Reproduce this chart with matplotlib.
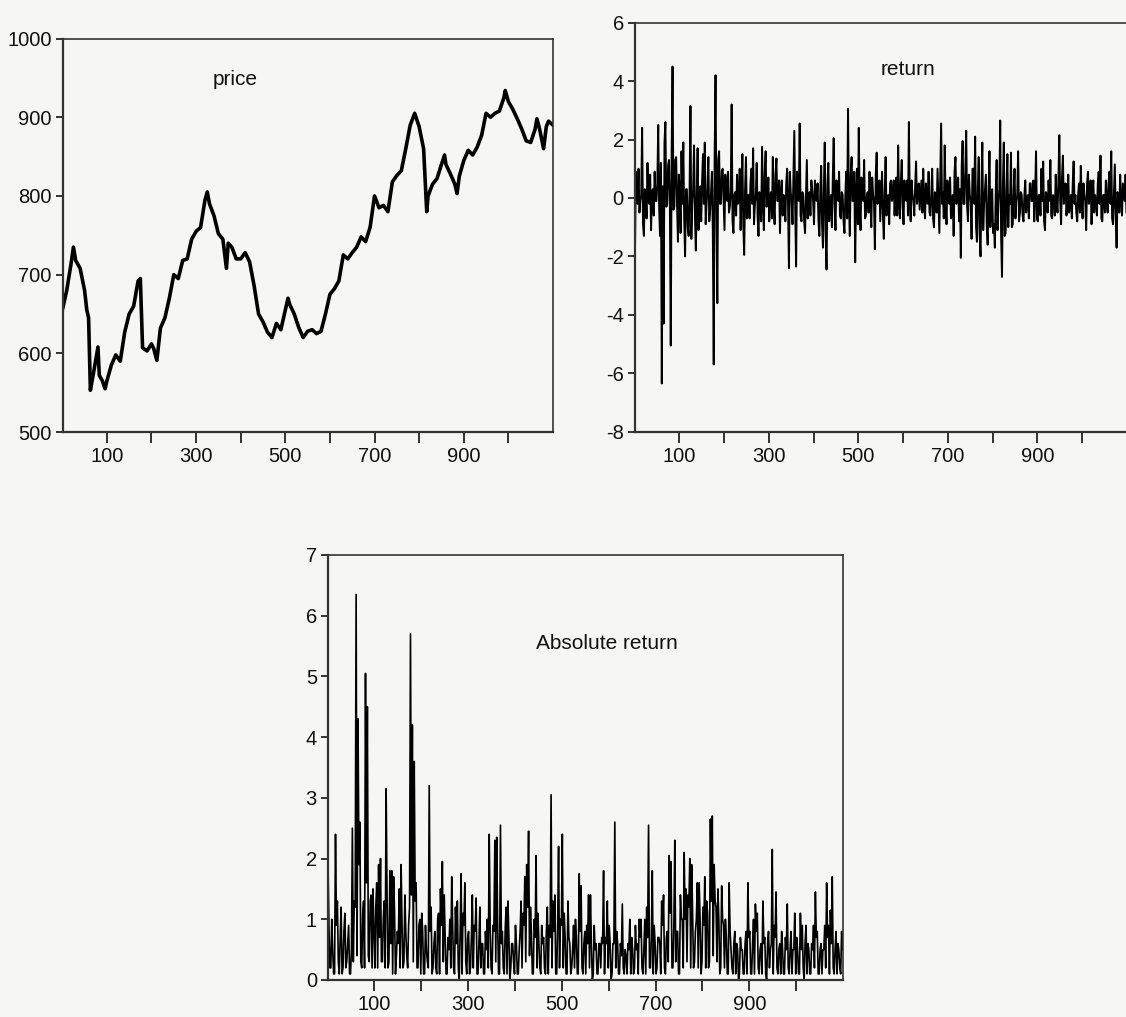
import numpy as np
import matplotlib.pyplot as plt

plt.rcParams['font.family'] = ['Liberation Sans', 'DejaVu Sans']
plt.rcParams['axes.unicode_minus'] = False

price_obs = [1, 10, 20, 25, 30, 40, 50, 55, 59, 63, 70, 80, 83, 90, 96, 100,
             110, 120, 130, 140, 150, 160, 170, 175, 180, 190, 200, 205, 212,
             220, 230, 240, 250, 260, 270, 280, 290, 300, 310, 320, 325, 330,
             340, 350, 360, 368, 372, 380, 390, 400, 410, 420, 430, 440, 450,
             460, 470, 480, 490, 500, 506, 510, 520, 530, 540, 550, 560, 570,
             580, 590, 600, 610, 620, 630, 640, 650, 660, 670, 680, 690, 700,
             710, 720, 730, 740, 750, 760, 770, 780, 790, 800, 810, 817, 820,
             830, 840, 850, 857, 860, 870, 880, 885, 890, 900, 910, 920, 930,
             940, 950, 960, 970, 980, 990, 993, 1000, 1010, 1020, 1030, 1040,
             1050, 1060, 1064, 1070, 1079, 1085, 1090, 1100]
price_val = [657, 680, 715, 735, 718, 708, 680, 655, 645, 553, 575, 608, 572,
             565, 555, 565, 585, 598, 590, 627, 650, 660, 692, 695, 607, 603,
             612, 606, 591, 632, 645, 670, 700, 695, 718, 720, 745, 755, 760,
             795, 805, 790, 775, 752, 745, 708, 740, 735, 720, 720, 728, 716,
             686, 650, 640, 627, 620, 638, 630, 655, 670, 662, 650, 633, 620,
             628, 630, 625, 628, 650, 675, 682, 692, 725, 720, 728, 735, 748,
             742, 760, 800, 785, 788, 780, 818, 826, 832, 860, 890, 905, 888,
             860, 780, 800, 815, 822, 840, 852, 840, 828, 815, 803, 825, 845,
             858, 852, 862, 877, 905, 900, 905, 908, 925, 934, 920, 910, 898,
             885, 870, 868, 885, 898, 885, 860, 888, 895, 890]

# return, read at obs 1, 5, 9, ...
ret_a = [
    -1.9, 0.2, 1.0, -0.1, 2.4, -1.3, 0.1, 1.2, -0.2, -1.1, 0.3, 0.9, -0.1,
    2.5, -1.3, -6.35, -4.3, 2.6, -0.2, 1.3, -5.05, 4.5, -0.3, 1.4, -1.5,
    0.2, 1.6, 1.9, -2.0, 0.3, -1.3, 3.15, -0.2, 1.8, -1.8, 1.7, 0.1, -0.8,
    1.5, 1.9, -0.2, 1.4, -0.4, 0.9, -5.7, 4.2, -3.6, 1.6, -0.2, 1.0,
    -1.1, 0.1, 0.9, -0.3, 3.2, -1.2, 0.2, 0.8, -0.1, -1.1, 1.5, -1.95, 1.4,
    0.1, -0.7, 1.0, 1.7, -0.2, 1.2, -1.3, 0.0, 1.75, -1.1, 1.6, -0.1,
    -0.8, 0.2, 1.4, -0.9, 1.35, -0.1, -1.2, 0.6, 0.1, -0.8, 1.0, -2.4, 0.2,
    -0.9, 2.3, -2.35, 0.1, 2.55, -0.8, 0.1, -1.2, 1.3, 0.0, -0.6, 0.3,
    -0.9, 0.1, 0.5, -1.3, 1.1, -1.7, 1.9, -2.45, 1.2, -0.1, -1.0, 2.05, -1.1,
    0.2, 0.9, -0.7, 0.1, -1.2, 0.9, 3.05, -1.3, 1.4, -0.1, -2.2, 1.0,
    2.4, -1.1, 0.1, 1.3, -0.6, 0.2, 0.9, -1.0, 0.1, -1.75, 1.55, -0.1, -0.8,
    0.9, -1.4, 1.4, 0.0, -0.9, 0.6, 0.1, -0.6, 0.7, 1.8, -0.7, 1.3,
    -0.9, 0.0, 0.6, 2.6, -0.8, 0.1, -0.6, 1.25, 0.1, -0.4, 0.6, 1.0, -0.7,
    0.1, 0.9, -0.6, 1.0, -1.0, 0.1, 1.0, -1.2, 2.55, 0.2, 1.8, -0.9,
    0.1, 0.7, -0.6, -1.3, 1.4, 0.1, -0.8, -2.05, 1.95, -0.2, 2.3, -0.8, 0.1,
    -1.4, 1.0, 2.1, -1.5, 1.4, -2.0, 1.9, -0.2, 0.8, -1.6, 1.6, -0.1,
    -1.2, -1.7, 1.3, -0.2, 2.65, -2.7, 1.9, -1.2, 1.5, 0.1, 1.55, -0.9, 1.0,
    -0.1, 1.6, -0.5, 0.1, -0.8, 0.6, 0.0, -0.7, 0.5, -0.1, -0.8, 1.6,
    -0.8, 0.1, 1.0, 1.25, -1.1, 0.1, 0.6, 1.3, -0.7, 0.0, 0.8, -0.5, 2.15,
    -0.9, 1.45, 0.1, -0.6, 0.8, -0.1, -0.7, 1.25, 0.1, -0.8, 0.5, 1.1,
    -0.7, 0.1, -1.1, 0.9, 0.0, -0.9, 0.6, 0.1, -0.6, 0.9, 1.45, -0.8, 0.1,
    0.6, -0.5, 0.9, 1.6, -0.9, 1.15, -1.7, 0.1, 0.8, -0.6, 0.2, 0.8,
]
# return, read at obs 3, 7, 11, ...
ret_b = [
    0.9, -0.2, -0.5, 0.1, -0.9, 0.3, -0.7, -0.1, 0.8, 0.2, -0.6, -0.1, 0.5,
    -0.3, 1.2, 0.4, 1.9, -0.3, 1.1, -0.2, 1.6, -0.4, 1.3, -0.2, 0.8,
    -1.2, -0.2, -0.7, 0.3, -1.0, 0.2, -1.4, 0.3, -0.6, 0.1, -1.1, 0.4, 0.6,
    -0.2, -0.9, 0.3, -0.8, 0.2, -1.2, 1.4, -0.3, 1.3, -0.2, 0.9, -0.1,
    0.8, -0.1, -0.5, 0.2, -0.8, 0.1, -0.6, -0.2, 1.0, 0.1, -0.9, 0.3, -0.7,
    0.1, 0.5, -0.2, -0.9, 0.1, -0.6, 0.2, -0.8, -0.1, 0.9, -0.3, 0.7,
    0.1, -0.7, -0.2, 0.8, -0.1, 0.6, 0.2, -0.6, -0.1, 0.5, -0.2, 0.9, -0.1,
    0.8, -0.3, 0.9, -0.1, -0.6, 0.2, -0.8, 0.1, -0.7, 0.2, 0.6, -0.1,
    0.6, -0.1, -0.8, 0.2, -0.9, 0.3, -1.2, 0.4, -0.8, 0.1, 0.7, -0.2, 0.6,
    -0.1, -0.6, 0.2, -0.8, 0.1, -0.7, -0.2, 0.8, -0.1, 0.9, 0.2, -0.9,
    -0.2, 0.7, -0.1, -0.7, 0.1, -0.5, -0.2, 0.7, -0.1, 0.8, -0.2, 0.6, 0.1,
    -0.6, 0.2, -0.6, 0.1, 0.5, -0.1, 0.6, 0.2, -0.6, -0.1, 0.6, -0.2,
    0.6, -0.1, -0.6, -0.2, 0.6, -0.1, 0.4, -0.2, 0.5, 0.1, -0.5, -0.1, 0.5,
    -0.2, -0.5, 0.1, -0.7, 0.2, -0.5, -0.1, 0.7, -0.2, -0.7, -0.1, 0.6,
    -0.2, -0.7, 0.1, 0.9, -0.2, 0.7, 0.3, 1.1, -0.2, 0.9, -0.3, 0.8, -0.1,
    1.0, -0.2, -1.0, 0.3, -1.2, 0.2, -1.1, 0.3, -1.0, 0.2, -1.0, 0.3,
    -0.9, 0.2, -1.1, 0.3, -1.3, 0.4, -1.3, 0.3, -1.0, -0.2, -1.0, 0.2, -0.7,
    0.1, -0.8, 0.2, -0.6, 0.1, -0.5, 0.1, 0.5, -0.1, 0.6, 0.1, -0.7,
    0.1, -0.6, -0.1, -0.8, 0.2, -0.5, -0.1, -0.6, 0.1, -0.6, -0.2, 0.6, -0.1,
    0.7, -0.2, 0.5, -0.1, -0.5, 0.1, 0.5, -0.2, -0.5, 0.1, -0.5, -0.1,
    0.5, -0.1, 0.5, -0.2, 0.6, 0.1, -0.5, -0.1, 0.5, -0.2, -0.7, 0.1, -0.5,
    -0.1, 0.5, -0.2, -0.7, 0.1, -0.6, 0.2, -0.5, -0.1, 0.5, -0.1, -0.5,
]

obs_all = np.concatenate([np.arange(1, 1 + 4 * len(ret_a), 4),
                          np.arange(3, 3 + 4 * len(ret_b), 4)])
val_all = np.concatenate([ret_a, ret_b])
order = np.argsort(obs_all)
ret_obs = obs_all[order]
ret_val = val_all[order]
abs_val = np.abs(ret_val)

x_ticks = list(range(100, 1001, 100))
x_labels = [str(t) if (t // 100) % 2 == 1 else '' for t in x_ticks]

bg = '#f6f6f4'
ink = '#111111'

fig = plt.figure(figsize=(11.26, 10.17), dpi=100, facecolor=bg)


def style(ax, ylim, yticks):
    ax.set_facecolor(bg)
    ax.set_xlim(1, 1100)
    ax.set_ylim(*ylim)
    ax.set_xticks(x_ticks)
    ax.set_xticklabels(x_labels)
    ax.set_yticks(yticks)
    ax.tick_params(axis='x', direction='out', length=8, width=1.2,
                   labelsize=14.5, pad=3, colors=ink)
    ax.tick_params(axis='y', direction='out', length=5, width=1.2,
                   labelsize=14.5, pad=3, colors=ink)
    for side, sp in ax.spines.items():
        sp.set_color('#333333')
        sp.set_linewidth(1.6 if side in ('left', 'bottom') else 1.2)


ax1 = fig.add_axes([0.0557, 0.5752, 0.4354, 0.3869])
ax1.plot(price_obs, price_val, color='black', lw=2.6)
style(ax1, (500, 1000), range(500, 1001, 100))
ax1.text(388, 948, 'price', fontsize=15, color=ink, ha='center', va='center')

ax2 = fig.add_axes([0.5639, 0.5755, 0.4369, 0.4022])
ax2.plot(ret_obs, ret_val, color='black', lw=1.4)
style(ax2, (-8, 6), range(-8, 7, 2))
ax2.text(611, 4.4, 'return', fontsize=15, color=ink, ha='center', va='center')

ax3 = fig.add_axes([0.2913, 0.0364, 0.4574, 0.4179])
ax3.plot(ret_obs, abs_val, color='black', lw=1.2)
style(ax3, (0, 7), range(0, 8))
ax3.text(596, 5.55, 'Absolute return', fontsize=15, color=ink,
         ha='center', va='center')

fig.savefig('out.png', dpi=100, facecolor=bg)
